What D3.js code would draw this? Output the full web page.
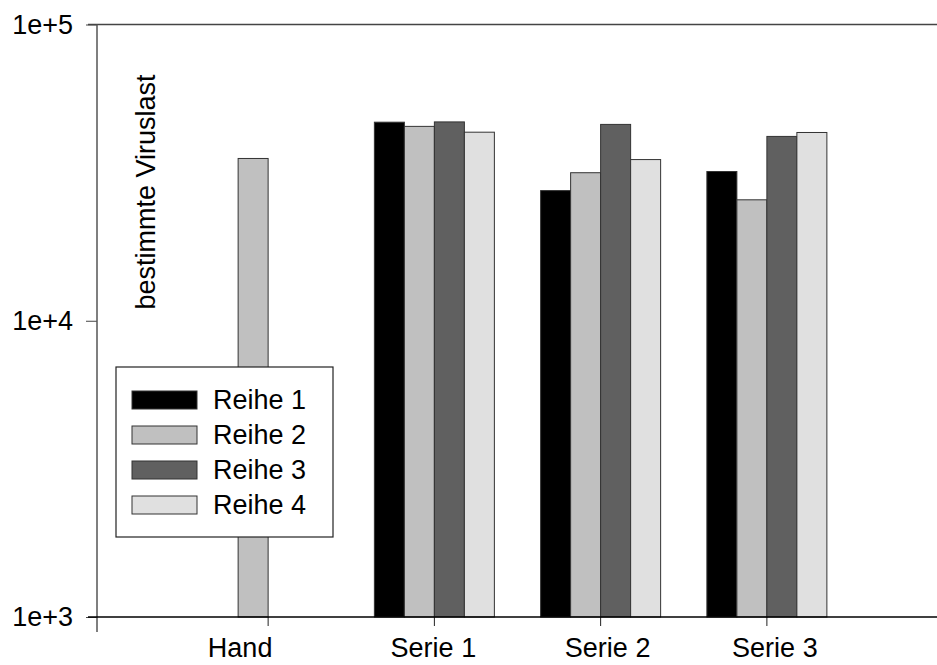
<!DOCTYPE html>
<html>
<head>
<meta charset="utf-8">
<script src="https://cdn.jsdelivr.net/npm/d3@7"></script>
<style>
  body { margin: 0; background: #fff; }
  text { font-family: "Liberation Sans", Arial, sans-serif; fill: #000; }
</style>
</head>
<body>
<div id="chart"></div>
<script>
const categories = ["Hand", "Serie 1", "Serie 2", "Serie 3"];
const seriesNames = ["Reihe 1", "Reihe 2", "Reihe 3", "Reihe 4"];
const seriesColors = ["#000000", "#c0c0c0", "#606060", "#e0e0e0"];
// null = no bar
const reihe1 = [null, 46800, 27500, 31900];
const reihe2 = [35300, 45300, 31600, 25600];
const reihe3 = [null, 46900, 46000, 41900];
const reihe4 = [null, 43300, 35000, 43200];
const yTicks = [1e3, 1e4, 1e5];

const width = 937, height = 665;
const fontSize = "27px";
// the original labels are not quite centred under their ticks
const labelShift = {"Hand": -28, "Serie 1": -1, "Serie 2": 7, "Serie 3": 8};

const svg = d3.select("#chart")
    .append("svg")
        .attr("width", width)
        .attr("height", height);

const allSeries = [reihe1, reihe2, reihe3, reihe4];

// scales
const y = d3.scaleLog()
    .domain([1e3, 1e5])
    .range([617, 24.5]);

const x0 = d3.scaleBand()
    .domain(categories)
    .range([185, 850]);

const x1 = d3.scaleBand()
    .domain(seriesNames)
    .range([-60, 60]);

// top frame line
svg.append("line")
    .attr("x1", 88).attr("x2", width)
    .attr("y1", y(1e5)).attr("y2", y(1e5))
    .attr("stroke", "#444")
    .attr("stroke-width", 1.5);

// bars
const barData = [];
categories.forEach(function(c, i) {
    allSeries.forEach(function(s, j) {
        if (s[i] != null) barData.push({cat: c, name: seriesNames[j], value: s[i], color: seriesColors[j]});
    });
});

svg.append("g")
    .selectAll("rect")
    .data(barData)
    .join("rect")
        .attr("x", d => x0(d.cat) + x0.bandwidth() / 2 + x1(d.name))
        .attr("width", x1.bandwidth())
        .attr("y", d => y(d.value))
        .attr("height", d => y(1e3) - y(d.value))
        .attr("fill", d => d.color)
        .attr("stroke", "#333")
        .attr("stroke-width", 1);

// y axis
const yAxis = svg.append("g")
    .attr("transform", "translate(97,0)")
    .call(d3.axisLeft(y)
        .tickValues(yTicks)
        .tickFormat(d => "1e+" + Math.round(Math.log10(d)))
        .tickSize(11)
        .tickPadding(13));
yAxis.select(".domain").remove();
yAxis.selectAll(".tick line").attr("stroke", "#444");
yAxis.selectAll(".tick text")
    .style("font-size", fontSize)
    .attr("fill", "#000");

svg.append("line")
    .attr("x1", 97).attr("x2", 97)
    .attr("y1", y(1e5)).attr("y2", 632)
    .attr("stroke", "#555")
    .attr("stroke-width", 1.5);

// x axis
const xAxis = svg.append("g")
    .attr("transform", "translate(0," + y(1e3) + ")")
    .call(d3.axisBottom(x0)
        .tickSize(9)
        .tickPadding(12));
xAxis.select(".domain").remove();
xAxis.selectAll(".tick line").attr("stroke", "#222");
xAxis.selectAll(".tick text")
    .style("font-size", fontSize)
    .attr("fill", "#000")
    .attr("dx", d => labelShift[d]);

svg.append("line")
    .attr("x1", 88).attr("x2", width)
    .attr("y1", y(1e3)).attr("y2", y(1e3))
    .attr("stroke", "#000")
    .attr("stroke-width", 1.5);

// y label
svg.append("text")
    .attr("transform", "translate(155,192) rotate(-90)")
    .attr("text-anchor", "middle")
    .style("font-size", fontSize)
    .text("bestimmte Viruslast");

// legend
const legend = svg.append("g");
legend.append("rect")
    .attr("x", 116).attr("y", 367)
    .attr("width", 217).attr("height", 170)
    .attr("fill", "#fff")
    .attr("stroke", "#222")
    .attr("stroke-width", 1.2);

const items = legend.selectAll("g.item")
    .data(seriesNames)
    .join("g")
        .attr("class", "item")
        .attr("transform", (d, i) => "translate(132," + (391 + i * 35) + ")");

items.append("rect")
    .attr("width", 65).attr("height", 18)
    .attr("fill", (d, i) => seriesColors[i])
    .attr("stroke", "#333")
    .attr("stroke-width", 1);

items.append("text")
    .attr("x", 81).attr("y", 18)
    .style("font-size", fontSize)
    .text(d => d);
</script>
</body>
</html>
